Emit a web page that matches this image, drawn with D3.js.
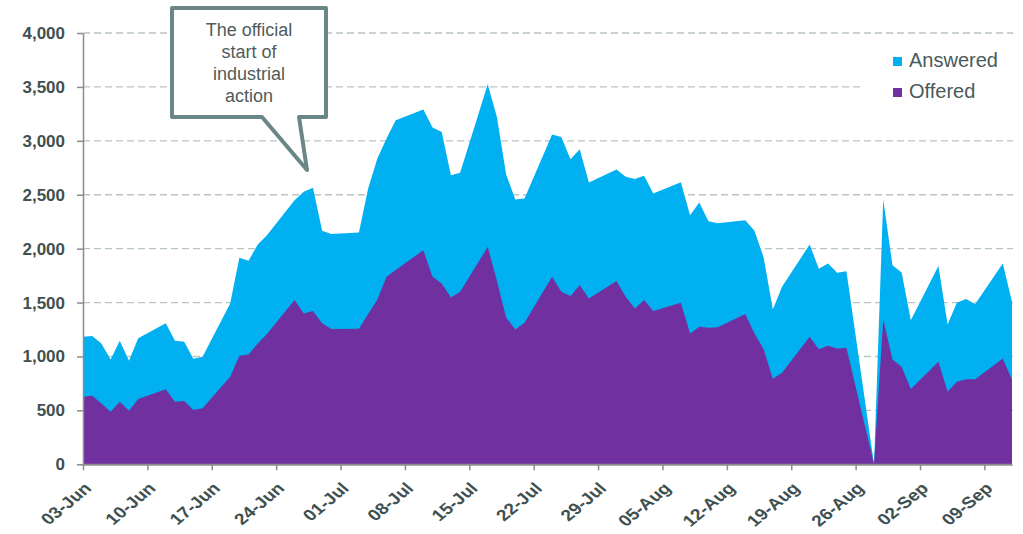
<!DOCTYPE html>
<html>
<head>
<meta charset="utf-8">
<script src="https://cdn.jsdelivr.net/npm/d3@7"></script>
<style>
  body { margin: 0; background: #fff; }
  text { font-family: "Liberation Sans", Arial, sans-serif; }
</style>
</head>
<body>
<div id="chart"></div>
<script>
// Calls per day, June - September

var dates = [
  "2017-06-03","2017-06-04","2017-06-05","2017-06-06","2017-06-07","2017-06-08","2017-06-09",
  "2017-06-12","2017-06-13","2017-06-14","2017-06-15","2017-06-16",
  "2017-06-19","2017-06-20","2017-06-21","2017-06-22","2017-06-23",
  "2017-06-26","2017-06-27","2017-06-28","2017-06-29","2017-06-30",
  "2017-07-03","2017-07-04","2017-07-05","2017-07-06","2017-07-07",
  "2017-07-10","2017-07-11","2017-07-12","2017-07-13","2017-07-14",
  "2017-07-17","2017-07-18","2017-07-19","2017-07-20","2017-07-21",
  "2017-07-24","2017-07-25","2017-07-26","2017-07-27","2017-07-28",
  "2017-07-31","2017-08-01","2017-08-02","2017-08-03","2017-08-04",
  "2017-08-07","2017-08-08","2017-08-09","2017-08-10","2017-08-11",
  "2017-08-14","2017-08-15","2017-08-16","2017-08-17","2017-08-18",
  "2017-08-21","2017-08-22","2017-08-23","2017-08-24","2017-08-25",
  "2017-08-28","2017-08-29","2017-08-30","2017-08-31","2017-09-01",
  "2017-09-04","2017-09-05","2017-09-06","2017-09-07","2017-09-08",
  "2017-09-11","2017-09-12"
];

var answered = [
  1183, 1189, 1121, 973, 1146, 960, 1168,
  1307, 1146, 1137, 979, 997,
  1492, 1915, 1887, 2039, 2125,
  2450, 2527, 2564, 2165, 2137,
  2150, 2558, 2836, 3021, 3191,
  3290, 3123, 3083, 2681, 2703,
  3525, 3222, 2690, 2456, 2465,
  3058, 3036, 2829, 2922, 2613,
  2734, 2666, 2647, 2675, 2511,
  2616, 2310, 2428, 2255, 2236,
  2264, 2165, 1918, 1436, 1646,
  2039, 1813, 1863, 1776, 1791,
  0, 2456, 1847, 1779, 1335,
  1838, 1297, 1498, 1532, 1486,
  1863, 1507
];

var offered = [
  627, 636, 565, 488, 580, 497, 605,
  695, 580, 587, 503, 519,
  812, 1007, 1019, 1121, 1208,
  1523, 1399, 1421, 1307, 1254,
  1258, 1393, 1529, 1739, 1801,
  1986, 1739, 1677, 1548, 1600,
  2017, 1702, 1362, 1251, 1312,
  1739, 1600, 1560, 1662, 1538,
  1699, 1553, 1446, 1523, 1421,
  1498, 1214, 1275, 1266, 1270,
  1393, 1214, 1066, 793, 849,
  1183, 1066, 1099, 1075, 1081,
  0, 1347, 973, 905, 698,
  951, 673, 766, 788, 788,
  982, 781
];

var yTicks = [0, 500, 1000, 1500, 2000, 2500, 3000, 3500, 4000];
var seriesNames = ["Answered", "Offered"];
var seriesColors = ["#00b0f0", "#7030a0"];
var calloutLines = ["The official", "start of", "industrial", "action"];

var svgWidth = 1023;
var svgHeight = 534;

var margin = { top: 33, right: 10, bottom: 70, left: 83 };
var width = 1013 - margin.left;
var height = 464.3 - margin.top;

var parseDate = d3.timeParse("%Y-%m-%d");
var data = dates.map(function(d, i) {
  return { date: parseDate(d), answered: answered[i], offered: offered[i] };
});

var svg = d3.select("#chart")
  .append("svg")
  .attr("width", svgWidth)
  .attr("height", svgHeight);

var chartGroup = svg.append("g")
  .attr("transform", `translate(${margin.left}, ${margin.top})`);

var xScale = d3.scaleTime()
  .domain([parseDate("2017-06-03"), parseDate("2017-09-12")])
  .range([0, 929]);

var yScale = d3.scaleLinear()
  .domain([0, 4000])
  .range([height, 0]);

// gridlines
chartGroup.append("g")
  .selectAll("line")
  .data(yTicks.filter(d => d > 0))
  .enter()
  .append("line")
  .attr("x1", 0)
  .attr("x2", width)
  .attr("y1", d => yScale(d))
  .attr("y2", d => yScale(d))
  .attr("stroke", "#b9c5c4")
  .attr("stroke-width", 1.3)
  .attr("stroke-dasharray", "7,4");

// areas
var answeredArea = d3.area()
  .x(d => xScale(d.date))
  .y0(height)
  .y1(d => yScale(d.answered));

var offeredArea = d3.area()
  .x(d => xScale(d.date))
  .y0(height)
  .y1(d => yScale(d.offered));

chartGroup.append("path")
  .datum(data)
  .attr("fill", seriesColors[0])
  .attr("d", answeredArea);

chartGroup.append("path")
  .datum(data)
  .attr("fill", seriesColors[1])
  .attr("d", offeredArea);

// axes
var bottomAxis = d3.axisBottom(xScale)
  .tickValues(d3.timeSaturday.range(parseDate("2017-06-03"), parseDate("2017-09-12")))
  .tickSize(6)
  .tickSizeOuter(0)
  .tickFormat(d3.timeFormat("%d-%b"));

var leftAxis = d3.axisLeft(yScale)
  .tickValues(yTicks)
  .tickSize(6)
  .tickSizeOuter(0)
  .tickFormat(d3.format(","));

var xAxisG = chartGroup.append("g")
  .attr("transform", `translate(0, ${height})`)
  .call(bottomAxis);

xAxisG.select(".domain").attr("stroke", "#8c8c8c").attr("stroke-width", 2);
xAxisG.selectAll(".tick line").attr("stroke", "#8c8c8c").attr("stroke-width", 1.5);
xAxisG.selectAll(".tick text")
  .attr("text-anchor", "end")
  .attr("x", 0)
  .attr("y", 0)
  .attr("dy", 0)
  .attr("transform", "translate(9, 25) scale(1.2, 1) rotate(-45)")
  .attr("font-size", "16px")
  .attr("font-weight", "bold")
  .attr("font-family", "Liberation Sans, Arial, sans-serif")
  .attr("fill", "#3f5050");

var yAxisG = chartGroup.append("g")
  .call(leftAxis);

yAxisG.select(".domain").attr("stroke", "#8c8c8c").attr("stroke-width", 1.5);
yAxisG.selectAll(".tick line").attr("stroke", "#8c8c8c").attr("stroke-width", 1.5);
yAxisG.selectAll(".tick text")
  .attr("x", -18)
  .attr("font-size", "17px")
  .attr("font-weight", "bold")
  .attr("font-family", "Liberation Sans, Arial, sans-serif")
  .attr("fill", "#3f5050");

// legend
svg.append("rect")
  .attr("x", 862)
  .attr("y", 46)
  .attr("width", 151)
  .attr("height", 62)
  .attr("fill", "#fff");

var legend = svg.append("g")
  .selectAll("g")
  .data(seriesNames)
  .enter()
  .append("g")
  .attr("transform", (d, i) => `translate(893, ${57 + i * 31})`);

legend.append("rect")
  .attr("width", 9)
  .attr("height", 9)
  .attr("fill", (d, i) => seriesColors[i]);

legend.append("text")
  .attr("x", 16)
  .attr("y", 10)
  .attr("font-size", "20px")
  .attr("fill", "#4a5a5a")
  .text(d => d);

// callout
var callout = svg.append("g");

callout.append("path")
  .attr("d", "M172,8 L326,8 L326,117 L299,117 L307,170 L262,117 L172,117 Z")
  .attr("fill", "#fff")
  .attr("stroke", "#6a8686")
  .attr("stroke-width", 4)
  .attr("stroke-linejoin", "round");

callout.append("text")
  .attr("text-anchor", "middle")
  .attr("font-size", "18px")
  .attr("fill", "#4f5b5b")
  .selectAll("tspan")
  .data(calloutLines)
  .enter()
  .append("tspan")
  .attr("x", 249)
  .attr("y", (d, i) => 36 + i * 22)
  .text(d => d);
</script>
</body>
</html>
